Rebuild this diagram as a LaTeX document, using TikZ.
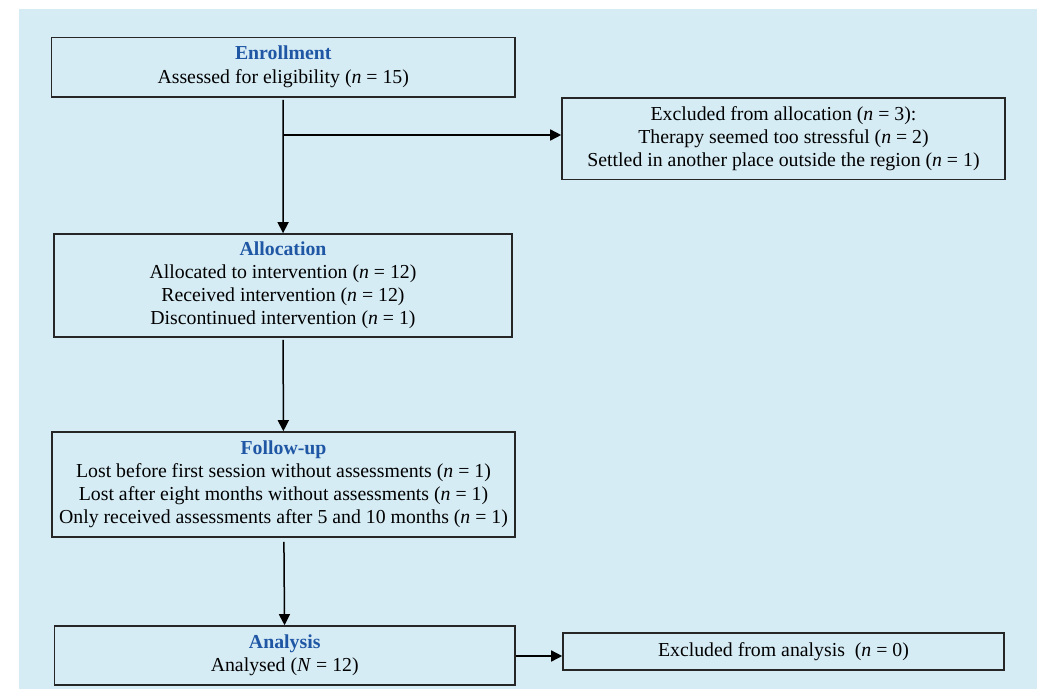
\documentclass[tikz,border=0pt]{standalone}
\usepackage{fontspec}
\setmainfont{Liberation Serif}
\usetikzlibrary{arrows.meta,positioning}

\definecolor{bgblue}{RGB}{214,236,245}
\definecolor{headblue}{RGB}{31,87,165}
\newcommand{\stagehead}[1]{{\bfseries\color{headblue}#1}}
\newcommand{\nv}{\textit{n}}

\begin{document}
\begin{tikzpicture}[x=1pt,y=-1pt,
		-{Triangle[length=11pt,width=11pt]},line width=1.5pt,shorten <=2pt,
		stage node/.style={draw=black!85,line width=1.6pt,align=center,inner sep=0pt,
			font=\fontsize{19.8}{23}\selectfont},
		excl node/.style={stage node}]
	% background panel
	\fill[bgblue] (19,9) rectangle (1037,689);
	\useasboundingbox (0,0) rectangle (1037,689);
	%
	\node[stage node,minimum width=463.5pt,minimum height=59.5pt] (enrol) at (283.25,67.25)
		{\stagehead{Enrollment}\\[1pt]Assessed for eligibility (\nv{} = 15)};
	\node[excl node,minimum width=443pt,minimum height=81.5pt] (exalloc) at (783.5,138.75)
		{Excluded from allocation (\nv{} = 3):\\Therapy seemed too stressful (\nv{} = 2)\\Settled in another place outside the region (\nv{} = 1)};
	\node[stage node,minimum width=458pt,minimum height=103pt] (alloc) at (283,285.5)
		{\stagehead{Allocation}\\Allocated to intervention (\nv{} = 12)\\Received intervention (\nv{} = 12)\\Discontinued intervention (\nv{} = 1)};
	\node[stage node,minimum width=463pt,minimum height=105pt] (follow) at (283.5,484.5)
		{\stagehead{Follow-up}\\Lost before first session without assessments (\nv{} = 1)\\Lost after eight months without assessments (\nv{} = 1)\\Only received assessments after 5 and 10 months (\nv{} = 1)};
	\node[stage node,minimum width=460.5pt,minimum height=59pt] (anal) at (284.75,655.5)
		{\stagehead{Analysis}\\Analysed (\textit{N} = 12)};
	\node[excl node,minimum width=441pt,minimum height=37pt] (exanal) at (783.5,651.5)
		{Excluded from analysis~ (\nv{} = 0)};
	\coordinate (split) at (283.25,135);
	%
	% main flow down the stages
	\draw (enrol) -- (alloc);
	\draw (alloc) -- (follow);
	\draw[shorten <=4pt] (follow) -- (anal);
	%
	% side branches to the exclusions
	\draw[shorten <=0pt] (split) -- (split -| exalloc.west);
	\draw[shorten <=0pt] (anal.east) ++(0,0.5) -- (exanal.west |- 0,656);
\end{tikzpicture}
\end{document}
